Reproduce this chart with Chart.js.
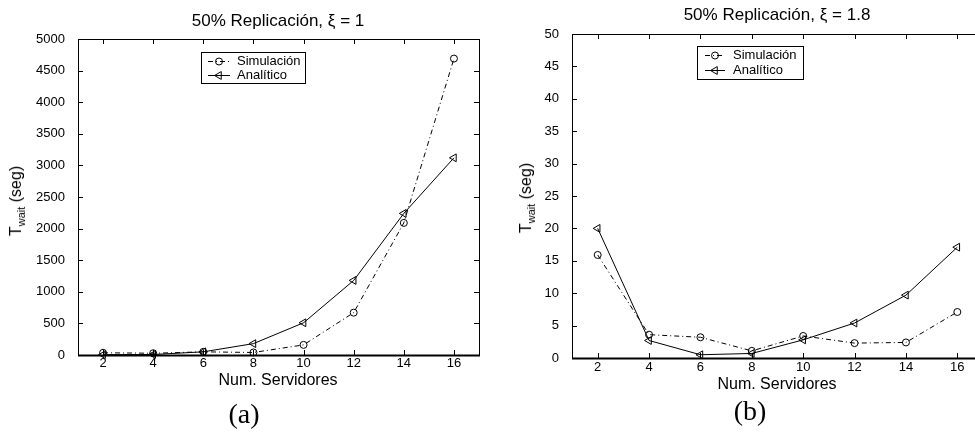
<!DOCTYPE html>
<html>
<head>
<meta charset="utf-8">
<script src="https://cdn.jsdelivr.net/npm/chart.js@4/dist/chart.umd.min.js"></script>
<style>
  html, body { margin: 0; padding: 0; background: #fff; }
  body { width: 975px; height: 436px; position: relative; overflow: hidden; font-family: "Liberation Sans", Arial, sans-serif; color: #000; }
  canvas { position: absolute; top: 0; }
  .txt { position: absolute; white-space: nowrap; transform: translate(-50%, -50%); }
  .ttl { font-size: 17px; }
  .xt { font-size: 16px; }
  .yt { font-size: 16px; transform: translate(-50%, -50%) rotate(-90deg); }
  .yt sub { font-size: 11px; vertical-align: -4px; }
  .lbl { font-family: "Liberation Serif", "DejaVu Serif", serif; font-size: 28px; }
</style>
</head>
<body>
<canvas id="chartA" width="490" height="436" style="left:0"></canvas>
<canvas id="chartB" width="500" height="436" style="left:490px"></canvas>

<div class="txt ttl" style="left:278px; top:21px">50% Replicación, ξ = 1</div>
<div class="txt ttl" style="left:777px; top:15px">50% Replicación, ξ = 1.8</div>
<div class="txt xt" style="left:278px; top:380px">Num. Servidores</div>
<div class="txt xt" style="left:777px; top:384px">Num. Servidores</div>
<div class="txt yt" style="left:17px; top:201px">T<sub>wait</sub> (seg)</div>
<div class="txt yt" style="left:527px; top:198px">T<sub>wait</sub> (seg)</div>
<div class="txt lbl" style="left:244px; top:414px">(a)</div>
<div class="txt lbl" style="left:750px; top:411px">(b)</div>

<script>
// === DATOS ===
const servers = [2, 4, 6, 8, 10, 12, 14, 16];
const simA = [35, 28, 50, 40, 160, 670, 2090, 4690];
const anaA = [5, 8, 50, 180, 510, 1180, 2240, 3120];
const simB = [15.9, 3.6, 3.2, 1.1, 3.4, 2.3, 2.4, 7.1];
const anaB = [20.0, 2.7, 0.5, 0.7, 2.8, 5.4, 9.7, 17.1];
const yTicksA = [0, 500, 1000, 1500, 2000, 2500, 3000, 3500, 4000, 4500, 5000];
const yTicksB = [0, 5, 10, 15, 20, 25, 30, 35, 40, 45, 50];
const seriesNames = ['Simulación', 'Analítico'];

const FONT = '"Liberation Sans", Arial, sans-serif';

// marcadores abiertos estilo MATLAB
function marker(ctx, style, x, y, r) {
    ctx.beginPath();
    if (style === 'circle') {
        ctx.arc(x, y, r, 0, Math.PI * 2);
    } else {
        ctx.moveTo(x - r, y);
        ctx.lineTo(x + r * 0.5, y - r * 0.87);
        ctx.lineTo(x + r * 0.5, y + r * 0.87);
        ctx.closePath();
    }
    ctx.stroke();
}

// caja con ticks hacia dentro en los cuatro lados
const boxTicks = {
    id: 'boxTicks',
    afterDatasetsDraw(chart) {
        const { ctx, chartArea: a, scales: { x, y } } = chart;
        const tl = 5;
        ctx.save();
        ctx.strokeStyle = '#000';
        ctx.lineWidth = 1;
        ctx.beginPath();
        x.ticks.forEach(t => {
            const px = Math.round(x.getPixelForValue(t.value)) + 0.5;
            ctx.moveTo(px, a.bottom); ctx.lineTo(px, a.bottom - tl);
            ctx.moveTo(px, a.top); ctx.lineTo(px, a.top + tl);
        });
        y.ticks.forEach(t => {
            const py = Math.round(y.getPixelForValue(t.value)) + 0.5;
            ctx.moveTo(a.left, py); ctx.lineTo(a.left + tl, py);
            ctx.moveTo(a.right, py); ctx.lineTo(a.right - tl, py);
        });
        ctx.stroke();
        ctx.strokeRect(Math.round(a.left) + 0.5, Math.round(a.top) + 0.5, Math.round(a.width), Math.round(a.height));
        ctx.lineWidth = 2;
        ctx.beginPath();
        ctx.moveTo(a.left, Math.round(a.bottom) + 0.5);
        ctx.lineTo(a.right + 1, Math.round(a.bottom) + 0.5);
        ctx.stroke();
        ctx.restore();
    }
};

// leyenda enmarcada
const boxLegend = {
    id: 'boxLegend',
    afterDraw(chart, args, o) {
        const ctx = chart.ctx;
        ctx.save();
        ctx.fillStyle = '#fff';
        ctx.fillRect(o.left, o.top, o.width, o.height);
        ctx.strokeStyle = '#000';
        ctx.lineWidth = 1;
        ctx.strokeRect(o.left + 0.5, o.top + 0.5, o.width, o.height);
        chart.data.datasets.forEach((ds, i) => {
            const yy = o.top + o.rowTop + i * o.rowGap + 0.5;
            ctx.setLineDash(ds.borderDash || []);
            ctx.beginPath();
            ctx.moveTo(o.left + o.s0, yy);
            ctx.lineTo(o.left + o.s1, yy);
            ctx.stroke();
            ctx.setLineDash([]);
            marker(ctx, ds.pointStyle, o.left + (o.s0 + o.s1) / 2, yy, ds.pointRadius);
            ctx.fillStyle = '#000';
            ctx.font = '13px ' + FONT;
            ctx.textBaseline = 'middle';
            ctx.fillText(ds.label, o.left + o.tx, yy);
        });
        ctx.restore();
    }
};

function makeDatasets(sim, ana) {
    return [{
        label: seriesNames[0],
        data: servers.map((s, i) => ({ x: s, y: sim[i] })),
        borderColor: '#000',
        borderWidth: 1,
        borderDash: [5, 3, 1, 3],
        pointStyle: 'circle',
        pointRadius: 3.5,
        pointBorderWidth: 1,
        pointBorderColor: '#000',
        pointBackgroundColor: 'rgba(0,0,0,0)',
        tension: 0,
        clip: false
    }, {
        label: seriesNames[1],
        data: servers.map((s, i) => ({ x: s, y: ana[i] })),
        borderColor: '#000',
        borderWidth: 1,
        pointStyle: 'triangle',
        pointRotation: -90,
        pointRadius: 4.5,
        pointBorderWidth: 1,
        pointBorderColor: '#000',
        pointBackgroundColor: 'rgba(0,0,0,0)',
        tension: 0,
        clip: false
    }];
}

function makeChart(id, sim, ana, yTicks, area, legend) {
    return new Chart(document.getElementById(id), {
        type: 'line',
        data: { datasets: makeDatasets(sim, ana) },
        options: {
            responsive: false,
            animation: false,
            layout: { padding: { left: 0, top: area.top, right: area.right, bottom: 0 } },
            scales: {
                x: {
                    type: 'linear',
                    min: 1,
                    max: 17,
                    grid: { display: false },
                    border: { display: false },
                    afterBuildTicks: s => { s.ticks = servers.map(v => ({ value: v })); },
                    afterFit: s => { s.height = area.xh; },
                    ticks: {
                        color: '#000',
                        font: { family: FONT, size: 13 },
                        padding: area.xpad,
                        maxRotation: 0,
                        autoSkip: false,
                        callback: v => String(v)
                    }
                },
                y: {
                    min: yTicks[0],
                    max: yTicks[yTicks.length - 1],
                    grid: { display: false },
                    border: { display: false },
                    afterBuildTicks: s => { s.ticks = yTicks.map(v => ({ value: v })); },
                    afterFit: s => { s.width = area.yw; },
                    ticks: {
                        color: '#000',
                        font: { family: FONT, size: 13 },
                        padding: 5,
                        autoSkip: false,
                        callback: v => String(v)
                    }
                }
            },
            plugins: {
                legend: { display: false },
                tooltip: { enabled: false },
                boxLegend: legend
            }
        },
        plugins: [boxTicks, boxLegend]
    });
}

makeChart('chartA', simA, anaA, yTicksA,
    { top: 39, right: 11, xh: 81, yw: 78, xpad: -7 },
    { left: 201, top: 52, width: 104, height: 31, rowTop: 9, rowGap: 14, s0: 7, s1: 29, tx: 36 });

makeChart('chartB', simB, anaB, yTicksB,
    { top: 34, right: 7, xh: 78, yw: 82, xpad: -6 },
    { left: 207, top: 46, width: 106, height: 33, rowTop: 9, rowGap: 15, s0: 8, s1: 28, tx: 36 });
</script>
</body>
</html>
